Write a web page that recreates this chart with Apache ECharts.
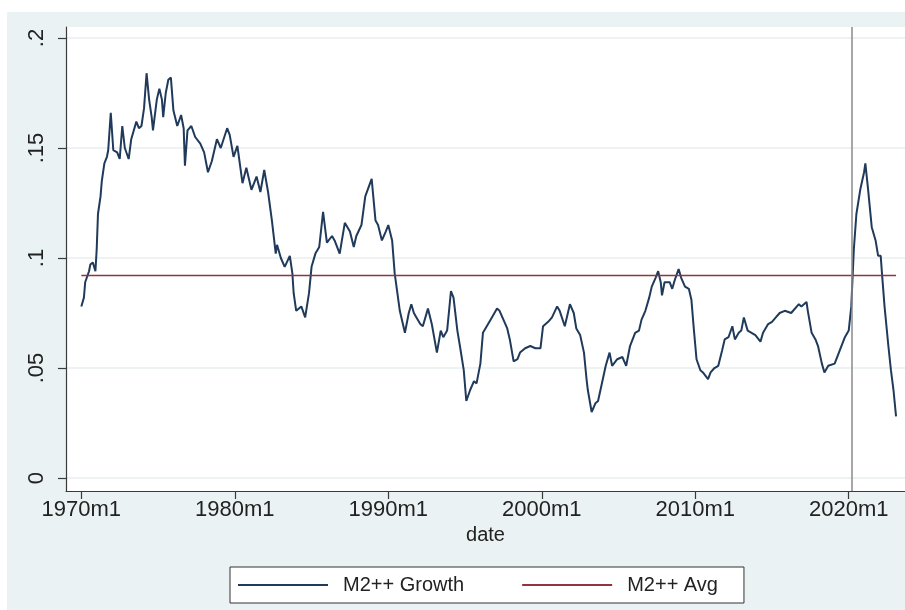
<!DOCTYPE html>
<html>
<head>
<meta charset="utf-8">
<script src="https://cdn.jsdelivr.net/npm/echarts@6/dist/echarts.min.js"></script>
<style>
  html, body { margin: 0; padding: 0; background: #ffffff; }
  #chart { width: 905px; height: 610px; }
</style>
</head>
<body>
<div id="chart"></div>
<script>
// Monthly M2++ growth (Stata %tm style dates) and the long-run average
const dates = [
  '1970m1','1970m3','1970m4','1970m7','1970m8','1970m10','1970m12',
  '1971m1','1971m2','1971m4','1971m5','1971m7','1971m9','1971m10','1971m12',
  '1972m2','1972m5','1972m7','1972m9','1972m11',
  '1973m2','1973m4','1973m8','1973m10','1973m12',
  '1974m2','1974m4','1974m6','1974m8','1974m9','1974m12',
  '1975m2','1975m4','1975m5','1975m7','1975m9','1975m11',
  '1976m1','1976m4','1976m7','1976m9','1976m10','1976m12',
  '1977m3','1977m6','1977m10',
  '1978m1','1978m4','1978m7','1978m11',
  '1979m2','1979m7','1979m9','1979m12',
  '1980m3','1980m7','1980m10',
  '1981m2','1981m6','1981m9','1981m12',
  '1982m3','1982m6','1982m9','1982m10',
  '1983m1','1983m4','1983m8','1983m10','1983m11',
  '1984m1','1984m5','1984m8','1984m11',
  '1985m1','1985m4','1985m7','1985m10',
  '1986m1','1986m5','1986m7','1986m11',
  '1987m3','1987m7','1987m10','1987m12',
  '1988m4','1988m7','1988m12',
  '1989m3','1989m5','1989m8','1989m11',
  '1990m1','1990m4','1990m6','1990m10',
  '1991m2','1991m5','1991m7','1991m9','1991m11',
  '1992m2','1992m4','1992m8','1992m11',
  '1993m3','1993m6','1993m8','1993m11',
  '1994m2','1994m4','1994m7','1994m9','1994m12',
  '1995m2','1995m5','1995m8','1995m10',
  '1996m1','1996m3','1996m6','1996m10',
  '1997m2','1997m4','1997m7','1997m10','1997m12',
  '1998m3','1998m6','1998m8','1998m12',
  '1999m4','1999m8','1999m12',
  '2000m2','2000m6','2000m9',
  '2001m1','2001m3','2001m7','2001m11',
  '2002m2','2002m4','2002m7','2002m10','2002m12',
  '2003m1','2003m4','2003m7','2003m9','2003m12',
  '2004m3','2004m6','2004m8','2004m12',
  '2005m4','2005m7','2005m10',
  '2006m2','2006m5','2006m7','2006m10',
  '2007m1','2007m3','2007m6','2007m8','2007m10','2007m11',
  '2008m1','2008m5','2008m7','2008m9','2008m12',
  '2009m2','2009m5','2009m8','2009m10','2009m12',
  '2010m2','2010m5','2010m7','2010m11',
  '2011m1','2011m4','2011m7','2011m10','2011m12',
  '2012m3','2012m6','2012m8','2012m11',
  '2013m1','2013m3','2013m6','2013m9','2013m12',
  '2014m4','2014m6','2014m10',
  '2015m1','2015m4','2015m7','2015m11',
  '2016m4','2016m10','2016m12',
  '2017m4','2017m5','2017m8','2017m11',
  '2018m1','2018m4','2018m6','2018m9',
  '2019m2','2019m6','2019m10',
  '2020m1','2020m3','2020m5','2020m7','2020m10',
  '2021m1','2021m2','2021m4','2021m7','2021m10','2021m12',
  '2022m2','2022m3','2022m5','2022m8','2022m10','2022m12',
  '2023m2'
];
const growth = [
  0.078,0.082,0.089,0.094,0.097,0.098,0.094,
  0.104,0.120,0.128,0.135,0.143,0.146,0.149,0.166,
  0.149,0.148,0.145,0.160,0.150,
  0.145,0.154,0.162,0.159,0.160,
  0.168,0.184,0.172,0.164,0.158,0.172,
  0.177,0.172,0.164,0.175,0.181,0.182,
  0.167,0.160,0.165,0.159,0.142,0.158,
  0.160,0.155,0.152,
  0.148,0.139,0.144,0.154,
  0.150,0.159,0.156,0.146,
  0.151,0.134,0.141,
  0.131,0.137,0.130,0.140,
  0.130,0.117,0.102,0.106,
  0.100,0.096,0.101,0.093,0.084,
  0.076,0.078,0.073,0.084,
  0.096,0.102,0.105,0.121,
  0.107,0.110,0.108,0.102,
  0.116,0.112,0.105,0.110,
  0.115,0.128,0.136,
  0.117,0.115,0.108,0.112,
  0.115,0.108,0.093,0.076,
  0.066,0.075,0.079,0.075,0.073,
  0.070,0.069,0.077,0.070,
  0.057,0.067,0.064,0.067,
  0.085,0.082,0.067,0.060,0.049,
  0.035,0.040,0.044,0.043,
  0.052,0.066,0.069,0.073,
  0.077,0.076,0.072,0.068,0.063,
  0.053,0.054,0.057,0.059,
  0.060,0.059,0.059,
  0.069,0.071,0.073,
  0.078,0.076,0.069,0.079,
  0.075,0.068,0.065,0.057,0.045,
  0.040,0.030,0.034,0.035,0.043,
  0.051,0.057,0.051,0.054,
  0.055,0.051,0.060,
  0.066,0.067,0.072,0.076,
  0.082,0.087,0.091,0.094,0.089,0.083,
  0.089,0.089,0.086,0.090,0.095,
  0.091,0.087,0.086,0.081,0.067,
  0.054,0.049,0.048,0.045,
  0.048,0.050,0.051,0.058,0.063,
  0.064,0.069,0.063,0.066,
  0.067,0.073,0.067,0.066,0.065,
  0.062,0.066,0.070,
  0.071,0.073,0.075,0.076,
  0.075,0.079,0.078,
  0.080,0.076,0.066,0.063,
  0.060,0.052,0.048,0.051,
  0.052,0.058,0.064,
  0.067,0.078,0.104,0.120,0.131,
  0.139,0.143,0.132,0.114,0.108,0.101,
  0.101,0.093,0.078,0.060,0.049,0.040,
  0.028
];
const avgValue = 0.092;
const markerDate = '2020m3';
const xTickLabels = ['1970m1','1980m1','1990m1','2000m1','2010m1','2020m1'];
const yTickValues = [0, 0.05, 0.1, 0.15, 0.2];

// Stata monthly index: months elapsed since 1960m1
function tm(s) {
  const [y, m] = s.split('m').map(Number);
  return (y - 1960) * 12 + (m - 1);
}
function tmLabel(v) {
  return (1960 + Math.floor(v / 12)) + 'm' + (v % 12 + 1);
}

const growthData = dates.map((d, i) => [tm(d), growth[i]]);
const avgData = [[tm(dates[0]), avgValue], [tm(dates[dates.length - 1]), avgValue]];
const xTicks = xTickLabels.map(tm);

const FONT = '"Liberation Sans", Arial, sans-serif';
const TEXT = '#222222';
const AXIS = '#3a3a3a';

const chart = echarts.init(document.getElementById('chart'), null, { renderer: 'canvas' });
chart.setOption({
  animation: false,
  backgroundColor: '#ffffff',
  textStyle: { fontFamily: FONT },
  graphic: [{
    type: 'rect', z: -10, silent: true,
    shape: { x: 7, y: 12, width: 898, height: 598 },
    style: { fill: '#eaf2f3' }
  }],
  grid: {
    left: 66, right: 0, top: 27, bottom: 119,
    show: true, backgroundColor: '#ffffff', borderWidth: 0
  },
  legend: {
    left: 230, top: 567,
    padding: [8, 26, 8, 8],
    backgroundColor: '#ffffff',
    borderColor: '#333333', borderWidth: 1, borderRadius: 0,
    icon: 'rect',
    itemWidth: 90, itemHeight: 2, itemGap: 58,
    textStyle: { fontSize: 20, color: TEXT, fontFamily: FONT, padding: [0, 0, 0, 10] },
    data: ['M2++ Growth', 'M2++ Avg']
  },
  xAxis: {
    type: 'value', min: 108, max: 764,
    name: 'date', nameLocation: 'middle', nameGap: 34,
    nameTextStyle: { fontSize: 20, color: TEXT, fontFamily: FONT },
    axisLine: { show: true, onZero: false, lineStyle: { color: AXIS, width: 1.2 } },
    axisTick: { show: true, length: 8, customValues: xTicks, lineStyle: { color: AXIS, width: 1.2 } },
    axisLabel: {
      customValues: xTicks, margin: 8, fontSize: 22, color: TEXT, fontFamily: FONT,
      formatter: v => tmLabel(v)
    },
    splitLine: { show: false }
  },
  yAxis: {
    type: 'value', min: -0.0059, max: 0.205,
    axisLine: { show: true, onZero: false, lineStyle: { color: AXIS, width: 1.2 } },
    axisTick: { show: true, length: 8, customValues: yTickValues, lineStyle: { color: AXIS, width: 1.2 } },
    axisLabel: {
      customValues: yTickValues, rotate: 90, margin: 18, fontSize: 22, color: TEXT, fontFamily: FONT,
      formatter: v => (v === 0 ? '0' : String(+v.toFixed(2)).replace(/^0/, ''))
    },
    splitLine: { show: true, lineStyle: { color: '#e8eeee', width: 1.5 } }
  },
  series: [
    {
      name: 'M2++ Growth', type: 'line', data: growthData,
      showSymbol: false, symbol: 'none',
      lineStyle: { color: '#1f3a5a', width: 2 },
      itemStyle: { color: '#1f3a5a' },
      z: 3,
      markLine: {
        silent: true, symbol: ['none', 'none'], label: { show: false },
        lineStyle: { color: '#8a8a8a', width: 1.5, type: 'solid' },
        data: [{ xAxis: tm(markerDate) }]
      }
    },
    {
      name: 'M2++ Avg', type: 'line', data: avgData,
      showSymbol: false, symbol: 'none',
      lineStyle: { color: '#90353b', width: 1.5 },
      itemStyle: { color: '#90353b' },
      z: 4
    }
  ]
});
</script>
</body>
</html>
